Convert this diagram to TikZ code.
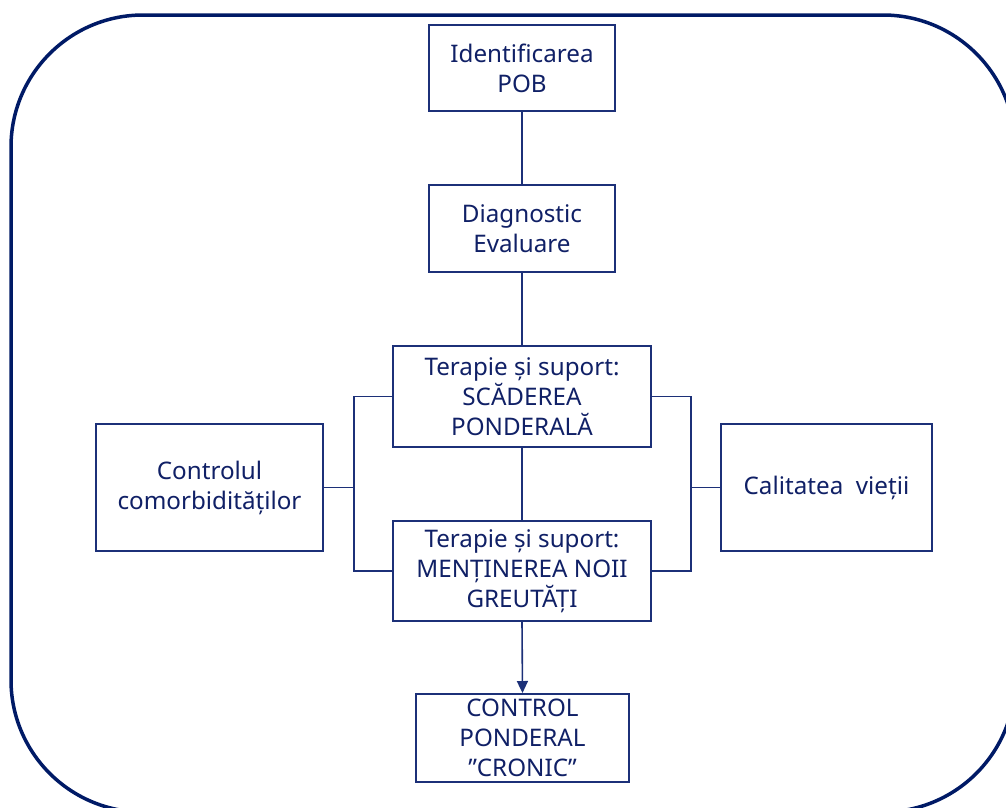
\documentclass[tikz,border=0pt]{standalone}
\usepackage{fontspec}
\setmainfont{Noto Sans}
\usetikzlibrary{arrows.meta}
\definecolor{navy}{RGB}{0,26,102}
\definecolor{boxline}{RGB}{28,48,120}
\definecolor{inktext}{RGB}{16,32,102}
\begin{document}
\begin{tikzpicture}[x=1pt,y=-1pt,
  flowbox/.style={draw=boxline, line width=2pt, fill=white, text=inktext,
    align=center, inner sep=0pt,
    font=\fontsize{24.2}{30}\selectfont},
  link/.style={draw=boxline, line width=1.6pt},
  arrowlink/.style={link, -{Triangle[length=12pt,width=11pt]}}]
  \useasboundingbox (0,0) rectangle (1006,807);
  \begin{scope}
    \clip (0,0) rectangle (1006,807);
    % outer rounded frame, its lower and right edges run past the page
    \draw[navy, line width=3.5pt, rounded corners=132pt] (11,15) rectangle (1015,812);
  \end{scope}

  % boxes
  \node[flowbox, minimum width=186pt, minimum height=86pt] (pob) at (522,68) {Identificarea\\POB};
  \node[flowbox, minimum width=186pt, minimum height=87pt] (diag) at (522,228.5) {Diagnostic\\Evaluare};
  \node[flowbox, minimum width=258pt, minimum height=101pt] (scad) at (522,396.5) {Terapie și suport:\\SCĂDEREA\\PONDERALĂ};
  \node[flowbox, minimum width=258pt, minimum height=100pt] (ment) at (522,571) {Terapie și suport:\\MENȚINEREA NOII\\GREUTĂȚI};
  \node[flowbox, minimum width=227pt, minimum height=127pt] (comorb) at (209.5,487.5) {Controlul\\comorbidităților};
  \node[flowbox, minimum width=211pt, minimum height=127pt] (calit) at (826.5,487.5) {Calitatea\ \ vieții};
  \node[flowbox, minimum width=213pt, minimum height=88pt] (cronic) at (522.5,738) {CONTROL\\PONDERAL\\”CRONIC”};

  % bracket joints
  \coordinate (lb) at (354,487.5);
  \coordinate (rb) at (691,487.5);

  % vertical chain
  \draw[link] (pob.south) -- (diag.north);
  \draw[link] (diag.south) -- (scad.north);
  \draw[link] (scad.south) -- (ment.north);
  \draw[arrowlink] (ment.south) -- (cronic.north);

  % side brackets
  \draw[link] (scad.west) -| (lb) |- (ment.west);
  \draw[link] (comorb.east) -- (lb);
  \draw[link] (scad.east) -| (rb) |- (ment.east);
  \draw[link] (calit.west) -- (rb);
\end{tikzpicture}
\end{document}
